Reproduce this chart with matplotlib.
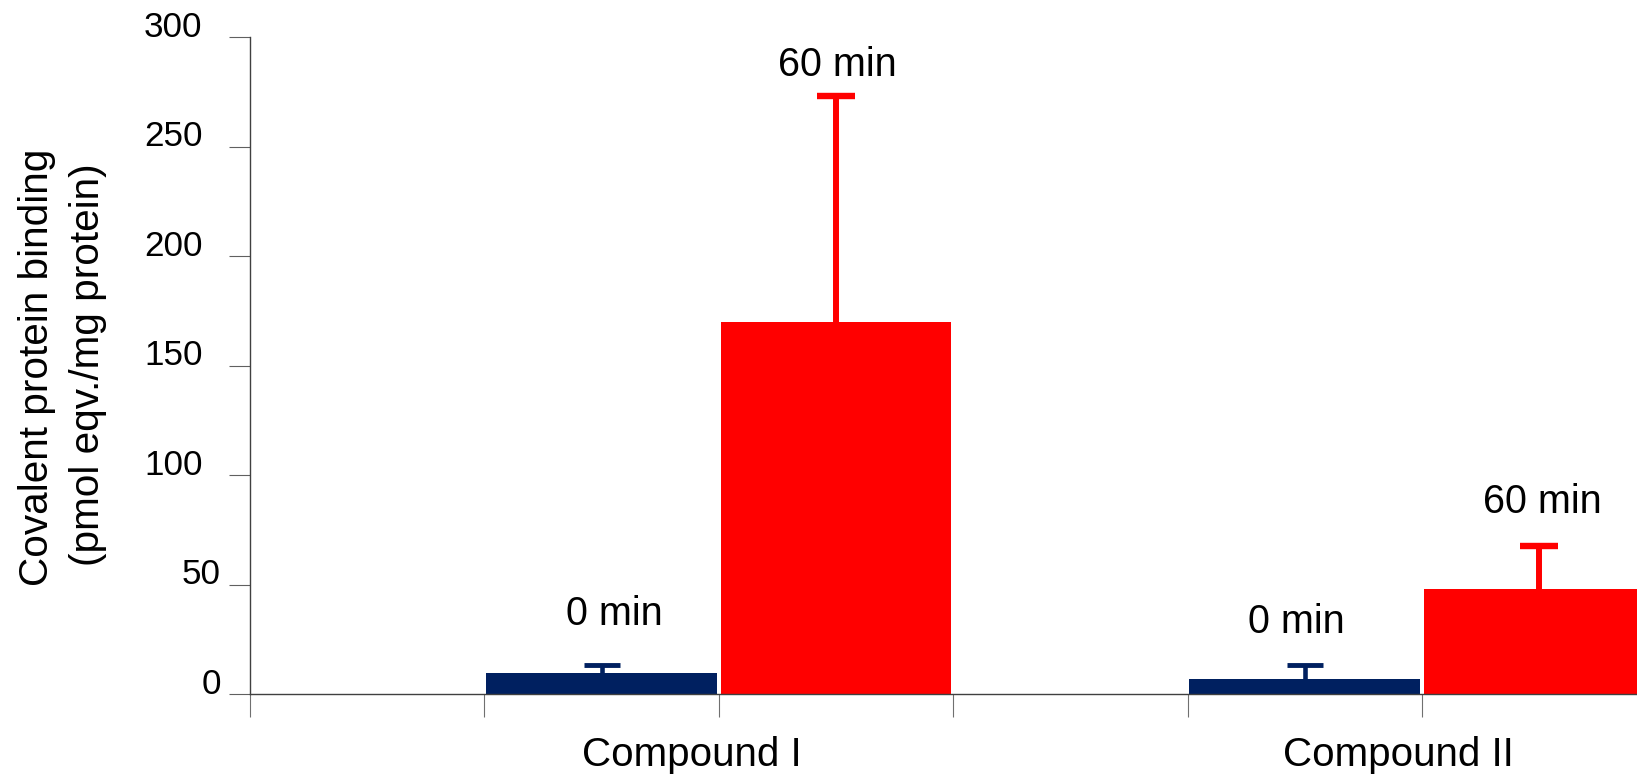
import matplotlib
matplotlib.use("Agg")
import matplotlib.pyplot as plt
import matplotlib.transforms as mtransforms

plt.rcParams['font.family'] = ['Liberation Sans', 'DejaVu Sans']

# Data
compounds = ["Compound I", "Compound II"]
time_labels = ["0 min", "60 min"]
mean_0min = [9.7, 7.1]
mean_60min = [170.0, 48.0]
err_0min = [3.6, 6.2]
err_60min = [103.0, 19.5]
y_ticks = [0, 50, 100, 150, 200, 250, 300]

navy = "#002060"
red = "#FF0000"

fig = plt.figure(figsize=(16.37, 7.74), dpi=100)
ax = fig.add_axes([250 / 1637, 79.7 / 774, 1387 / 1637, 657 / 774])

# slot layout: each compound occupies three slots (empty, 0 min, 60 min)
pos_0 = [1.5, 4.5]
pos_60 = [2.5, 5.5]
bw = 0.985

ax.bar(pos_0, mean_0min, width=bw, color=navy, linewidth=0, zorder=2)
ax.bar(pos_60, mean_60min, width=bw, color=red, linewidth=0, zorder=2)


def upper_errorbar(x, y, err, color, lw, cap, capthick):
    _, caps, _ = ax.errorbar(x, y, yerr=[[0] * len(err), err], fmt="none",
                             ecolor=color, elinewidth=lw, capsize=cap,
                             capthick=capthick, zorder=3)
    # only the upper cap is shown
    caps[0].set_visible(False)


upper_errorbar(pos_0, mean_0min, err_0min, navy, 3.3, 13.3, 3.5)
upper_errorbar(pos_60, mean_60min, err_60min, red, 4.3, 13.5, 4.6)

# time labels above the bars
label_pos_0 = [(1.553, 31.6), (4.465, 28.0)]
label_pos_60 = [(2.506, 282.4), (5.514, 82.8)]
for (x, y) in label_pos_0:
    ax.text(x, y, time_labels[0], ha="center", va="baseline", fontsize=28.5)
for (x, y) in label_pos_60:
    ax.text(x, y, time_labels[1], ha="center", va="baseline", fontsize=28.5)

# compound names under the axis
for x, name in zip([1.886, 4.898], compounds):
    ax.annotate(name, xy=(x, 0), xycoords=("data", "axes fraction"),
                xytext=(0, -51.8), textcoords="offset points",
                ha="center", va="baseline", fontsize=29)

ax.set_xlim(0, 5.917)
ax.set_ylim(0, 300)

for side in ("top", "right"):
    ax.spines[side].set_visible(False)
for side in ("left", "bottom"):
    ax.spines[side].set_color("#404040")
    ax.spines[side].set_linewidth(1.0)

ax.set_xticks(range(0, 6))
ax.set_xticklabels([])
ax.tick_params(axis="x", direction="out", length=16.8, width=0.8, color="#707070")

ax.set_yticks(y_ticks)
ax.set_yticklabels([str(v) for v in y_ticks])
ax.tick_params(axis="y", direction="out", length=15.1, width=0.8, color="#606060",
               pad=19.0, labelsize=25.2)

# tick labels sit a little above their ticks; short labels sit further right
for lab, v in zip(ax.get_yticklabels(), y_ticks):
    dx = 0.18 if v < 100 else 0.0
    lab.set_transform(lab.get_transform() +
                      mtransforms.ScaledTranslation(dx, 0.135, fig.dpi_scale_trans))

fig.text(37.5 / 1637, 1 - 367 / 774, "Covalent protein binding",
         rotation=90, ha="center", va="center", fontsize=29.2)
fig.text(88 / 1637, 1 - 365 / 774, "(pmol eqv./mg protein)",
         rotation=90, ha="center", va="center", fontsize=29.2)

fig.savefig("out.png", dpi=100)
